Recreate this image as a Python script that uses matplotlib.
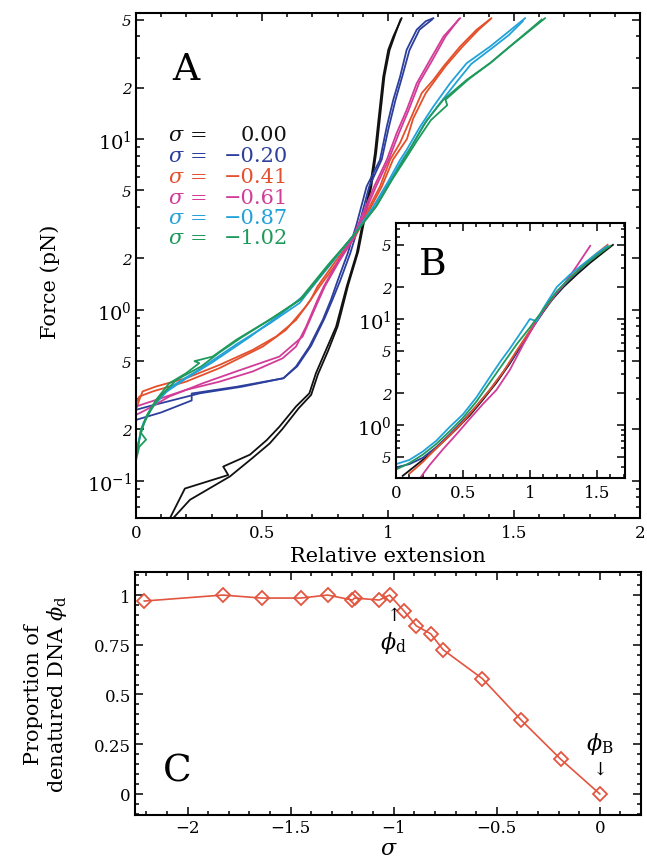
import matplotlib
matplotlib.use("Agg")
import matplotlib.pyplot as plt
from matplotlib.ticker import FixedLocator, NullFormatter, MultipleLocator

plt.rcParams['font.family'] = ['DejaVu Serif']
plt.rcParams['mathtext.fontset'] = 'dejavuserif'

# ---------------- Panel A data: relative extension vs force (pN) ----------------
sigma_labels = ["0.00", "\u22120.20", "\u22120.41", "\u22120.61", "\u22120.87", "\u22121.02"]
colors = ["#111111", "#2d3f9c", "#e4502c", "#d23c98", "#22a2d8", "#1f9a5c"]

black_x1 = [0.135, 0.194, 0.366, 0.346, 0.452, 0.519, 0.569, 0.635, 0.688, 0.714, 0.754, 0.794, 0.836, 0.876, 0.902, 0.929, 0.948, 0.962, 0.981, 1.001, 1.021, 1.054]
black_f1 = [0.0605, 0.090, 0.108, 0.121, 0.142, 0.173, 0.207, 0.272, 0.325, 0.426, 0.583, 0.798, 1.37, 2.15, 3.37, 5.27, 8.26, 12.9, 23.2, 33.3, 39.8, 51.0]
black_x2 = [0.148, 0.214, 0.373, 0.46, 0.53, 0.58, 0.645, 0.695, 0.722, 0.762, 0.80, 0.842, 0.882, 0.907, 0.934, 0.953, 0.967, 0.986, 1.006, 1.030, 1.050]
black_f2 = [0.0605, 0.0773, 0.106, 0.135, 0.165, 0.200, 0.265, 0.318, 0.420, 0.575, 0.80, 1.40, 2.20, 3.40, 5.30, 8.30, 12.9, 23.4, 33.1, 41.7, 50.1]

blue_x1 = [0.0, 0.06, 0.254, 0.42, 0.585, 0.635, 0.688, 0.741, 0.774, 0.80, 0.84, 0.875, 0.915, 0.968, 0.995, 1.021, 1.048, 1.074, 1.114, 1.15, 1.18]
blue_f1 = [0.260, 0.275, 0.325, 0.355, 0.398, 0.466, 0.610, 0.873, 1.15, 1.48, 2.14, 3.16, 5.27, 7.55, 11.8, 17.0, 23.2, 33.3, 43.7, 49.0, 51.0]
blue_x2 = [0.0, 0.10, 0.221, 0.221, 0.40, 0.585, 0.64, 0.695, 0.748, 0.78, 0.81, 0.85, 0.885, 0.925, 0.975, 1.003, 1.03, 1.057, 1.085, 1.125, 1.175]
blue_f2 = [0.227, 0.251, 0.295, 0.324, 0.355, 0.398, 0.468, 0.617, 0.891, 1.15, 1.48, 2.14, 3.16, 5.25, 7.59, 11.7, 17.0, 23.4, 33.1, 43.7, 50.1]

red_x1 = [0.0, 0.013, 0.026, 0.079, 0.198, 0.331, 0.463, 0.556, 0.635, 0.694, 0.72, 0.79, 0.865, 0.968, 1.008, 1.048, 1.087, 1.134, 1.18, 1.22, 1.286, 1.352, 1.41]
red_f1 = [0.260, 0.297, 0.333, 0.356, 0.398, 0.476, 0.583, 0.698, 0.873, 1.15, 1.37, 1.91, 2.69, 5.27, 7.55, 9.51, 12.9, 18.6, 22.2, 26.6, 34.8, 43.7, 51.0]
red_x2 = [0.0, 0.013, 0.066, 0.198, 0.331, 0.503, 0.595, 0.675, 0.73, 0.80, 0.87, 0.975, 1.02, 1.075, 1.10, 1.15, 1.19, 1.23, 1.295, 1.36, 1.405]
red_f2 = [0.284, 0.311, 0.333, 0.380, 0.456, 0.610, 0.764, 1.05, 1.38, 1.91, 2.69, 5.25, 7.59, 10.0, 13.2, 18.6, 22.4, 26.9, 34.7, 43.7, 50.1]

mag_x1 = [0.0, 0.079, 0.198, 0.331, 0.463, 0.582, 0.635, 0.675, 0.721, 0.745, 0.80, 0.862, 0.945, 0.995, 1.034, 1.074, 1.114, 1.167, 1.22, 1.286]
mag_f1 = [0.272, 0.297, 0.340, 0.380, 0.436, 0.521, 0.610, 0.798, 1.15, 1.37, 1.91, 2.69, 5.27, 7.55, 10.8, 14.8, 21.2, 29.1, 39.8, 51.0]
mag_x2 = [0.0, 0.04, 0.132, 0.265, 0.397, 0.569, 0.661, 0.72, 0.75, 0.805, 0.868, 0.952, 1.003, 1.042, 1.082, 1.124, 1.175, 1.228, 1.28]
mag_f2 = [0.243, 0.260, 0.311, 0.372, 0.436, 0.533, 0.698, 1.10, 1.38, 1.91, 2.69, 5.25, 7.59, 10.7, 14.8, 21.4, 28.8, 39.8, 50.1]

cyan_x1 = [0.0, 0.02, 0.05, 0.09, 0.15, 0.25, 0.40, 0.53, 0.65, 0.76, 0.86, 0.94, 1.0, 1.048, 1.074, 1.127, 1.18, 1.246, 1.312, 1.405, 1.471, 1.544]
cyan_f1 = [0.138, 0.200, 0.251, 0.302, 0.363, 0.447, 0.631, 0.832, 1.10, 1.78, 2.69, 3.98, 5.62, 7.55, 8.65, 11.8, 15.5, 21.2, 27.8, 34.8, 41.7, 51.0]
cyan_x2 = [0.005, 0.03, 0.07, 0.12, 0.20, 0.30, 0.45, 0.57, 0.68, 0.78, 0.87, 0.95, 1.01, 1.058, 1.09, 1.14, 1.20, 1.27, 1.33, 1.42, 1.48, 1.535]
cyan_f2 = [0.158, 0.219, 0.275, 0.331, 0.398, 0.490, 0.692, 0.933, 1.26, 1.91, 2.82, 4.17, 5.75, 7.59, 8.91, 12.0, 15.8, 21.4, 27.5, 34.7, 40.7, 49.0]

green_x1 = [0.0, 0.013, 0.04, 0.02, 0.04, 0.079, 0.132, 0.20, 0.251, 0.232, 0.304, 0.397, 0.529, 0.648, 0.76, 0.86, 0.95, 1.01, 1.061, 1.101, 1.154, 1.22, 1.312, 1.405, 1.484, 1.55, 1.623]
green_f1 = [0.132, 0.158, 0.174, 0.190, 0.237, 0.297, 0.372, 0.427, 0.488, 0.501, 0.533, 0.667, 0.874, 1.14, 1.82, 2.69, 3.98, 5.62, 7.55, 9.46, 12.9, 17.0, 22.2, 27.8, 34.8, 41.7, 51.0]
green_x2 = [0.005, 0.02, 0.06, 0.10, 0.16, 0.26, 0.33, 0.42, 0.55, 0.66, 0.77, 0.865, 0.955, 1.015, 1.068, 1.115, 1.17, 1.235, 1.228, 1.32, 1.41, 1.49, 1.555, 1.61]
green_f2 = [0.145, 0.200, 0.263, 0.316, 0.389, 0.468, 0.562, 0.692, 0.912, 1.17, 1.86, 2.75, 4.07, 5.75, 7.59, 9.77, 12.9, 15.8, 17.0, 22.4, 28.2, 35.5, 42.7, 50.1]

main_curves = [
    [(black_x1, black_f1), (black_x2, black_f2)],
    [(blue_x1, blue_f1), (blue_x2, blue_f2)],
    [(red_x1, red_f1), (red_x2, red_f2)],
    [(mag_x1, mag_f1), (mag_x2, mag_f2)],
    [(cyan_x1, cyan_f1), (cyan_x2, cyan_f2)],
    [(green_x1, green_f1), (green_x2, green_f2)],
]

# ---------------- Panel B data (rescaled curves) ----------------
inB_black_x = [0.05, 0.15, 0.25, 0.35, 0.45, 0.55, 0.65, 0.75, 0.85, 0.95, 1.05, 1.15, 1.25, 1.35, 1.45, 1.55, 1.62]
inB_black_f = [0.331, 0.417, 0.525, 0.692, 0.912, 1.23, 1.74, 2.51, 3.80, 6.03, 9.55, 14.5, 20.0, 26.3, 33.9, 42.7, 50.1]
inB_blue_x = [0.0, 0.1, 0.2, 0.3, 0.4, 0.5, 0.6, 0.7, 0.8, 0.9, 1.0, 1.1, 1.2, 1.3, 1.4, 1.5, 1.57]
inB_blue_f = [0.398, 0.427, 0.490, 0.617, 0.813, 1.10, 1.51, 2.14, 3.16, 4.79, 7.59, 11.7, 17.4, 24.0, 31.6, 39.8, 47.9]
inB_red_x = [0.1, 0.2, 0.3, 0.4, 0.5, 0.6, 0.7, 0.8, 0.9, 1.0, 1.1, 1.2, 1.3, 1.4, 1.5, 1.58]
inB_red_f = [0.347, 0.447, 0.603, 0.794, 1.07, 1.51, 2.14, 3.16, 5.01, 7.76, 12.0, 17.8, 24.5, 32.4, 41.7, 50.1]
inB_mag_x = [0.18, 0.25, 0.35, 0.45, 0.55, 0.65, 0.75, 0.85, 0.95, 1.05, 1.15, 1.25, 1.35, 1.45]
inB_mag_f = [0.316, 0.417, 0.589, 0.813, 1.14, 1.58, 2.14, 3.31, 5.75, 9.55, 15.1, 20.9, 31.6, 49.0]
inB_cyan_x = [0.0, 0.1, 0.2, 0.3, 0.4, 0.5, 0.6, 0.7, 0.78, 0.85, 0.92, 1.0, 1.05, 1.1, 1.2, 1.3, 1.4, 1.5, 1.58]
inB_cyan_f = [0.427, 0.468, 0.562, 0.708, 0.955, 1.26, 1.82, 2.82, 3.98, 5.25, 7.08, 10.0, 9.55, 12.6, 20.0, 26.3, 33.1, 41.7, 49.0]
inB_green_x = [0.0, 0.1, 0.2, 0.3, 0.4, 0.5, 0.6, 0.7, 0.8, 0.9, 1.0, 1.1, 1.2, 1.3, 1.4, 1.5, 1.6]
inB_green_f = [0.380, 0.437, 0.525, 0.661, 0.871, 1.17, 1.66, 2.51, 3.80, 5.75, 8.32, 12.3, 18.2, 24.5, 31.6, 39.8, 49.0]

inset_curves = [
    (inB_black_x, inB_black_f), (inB_blue_x, inB_blue_f), (inB_red_x, inB_red_f),
    (inB_mag_x, inB_mag_f), (inB_cyan_x, inB_cyan_f), (inB_green_x, inB_green_f),
]

# ---------------- Panel C data ----------------
sigma_c = [-2.21, -1.83, -1.64, -1.45, -1.32, -1.20, -1.19, -1.07, -1.02, -0.95, -0.89, -0.82, -0.76, -0.57, -0.38, -0.19, 0.0]
phi_c = [0.97, 1.0, 0.985, 0.985, 1.0, 0.975, 0.985, 0.975, 1.0, 0.92, 0.845, 0.805, 0.725, 0.58, 0.37, 0.175, 0.0]

logticks_main = [0.1, 0.2, 0.5, 1, 2, 5, 10, 20, 50]
logticks_main_lbl = [r"$10^{-1}$", "2", "5", r"$10^{0}$", "2", "5", r"$10^{1}$", "2", "5"]
logticks_inset = [0.5, 1, 2, 5, 10, 20, 50]
logticks_inset_lbl = ["5", r"$10^{0}$", "2", "5", r"$10^{1}$", "2", "5"]
minor_logs = [0.06, 0.07, 0.08, 0.09, 0.3, 0.4, 0.6, 0.7, 0.8, 0.9, 3, 4, 6, 7, 8, 9, 30, 40, 60, 70, 80]

W, H = 647, 862
fig = plt.figure(figsize=(W / 100, H / 100), dpi=100)

def style_axes(ax, lw=1.5):
    for s in ax.spines.values():
        s.set_linewidth(lw)
    ax.tick_params(which="both", direction="in", top=True, right=True, width=1.1)
    ax.tick_params(which="major", length=6)
    ax.tick_params(which="minor", length=3)

def style_log_labels(ax, size_pow, size_digit):
    for t in ax.get_yticklabels():
        if "$" in t.get_text():
            t.set_fontsize(size_pow)
        else:
            t.set_fontsize(size_digit)
            t.set_fontstyle("italic")

# ---- Panel A ----
axA = fig.add_axes([136 / W, 1 - 519 / H, (640 - 136) / W, (519 - 14) / H])
for c, traces in zip(colors, main_curves):
    for xs, fs in traces:
        axA.plot(xs, fs, color=c, lw=1.3, solid_joinstyle="round")
axA.set_yscale("log")
axA.set_xlim(0, 2)
axA.set_ylim(0.0605, 54.7)
axA.set_xticks([0, 0.5, 1, 1.5, 2], ["0", "0.5", "1", "1.5", "2"])
axA.xaxis.set_minor_locator(MultipleLocator(0.1))
axA.set_yticks(logticks_main, logticks_main_lbl)
axA.yaxis.set_minor_locator(FixedLocator(minor_logs))
axA.yaxis.set_minor_formatter(NullFormatter())
style_axes(axA)
axA.tick_params(axis="x", labelsize=12, pad=4)
axA.tick_params(axis="y", pad=3)
style_log_labels(axA, 14, 11)
axA.set_xlabel("Relative extension", fontsize=15)
axA.xaxis.set_label_coords(0.5, -0.055)
axA.set_ylabel("Force (pN)", fontsize=15)
axA.yaxis.set_label_coords(-0.15, 0.47)
axA.text((186 - 136) / 504, (519 - 70) / 505, "A", fontsize=27, ha="center", va="center",
         transform=axA.transAxes)

# legend as coloured text
leg_y = [135.5, 156.5, 177.5, 198, 218.5, 239]
for lbl, c, py in zip(sigma_labels, colors, leg_y):
    yf = (519 - py) / 505
    axA.text((168 - 136) / 504, yf, r"$\sigma$", color=c, fontsize=15, ha="left", va="center",
             transform=axA.transAxes)
    axA.text((199 - 136) / 504, yf, "=", color=c, fontsize=15, ha="center", va="center",
             transform=axA.transAxes)
    axA.text((288 - 136) / 504, yf, lbl, color=c, fontsize=15, ha="right", va="center",
             transform=axA.transAxes)

# ---- Panel B (inset) ----
axB = fig.add_axes([396 / W, 1 - 479 / H, (625 - 396) / W, (479 - 224) / H])
axB.set_facecolor("white")
for c, (xs, fs) in zip(colors, inset_curves):
    axB.plot(xs, fs, color=c, lw=1.3)
axB.set_yscale("log")
axB.set_xlim(0, 1.71)
axB.set_ylim(0.316, 80.5)
axB.set_xticks([0, 0.5, 1, 1.5], ["0", "0.5", "1", "1.5"])
axB.xaxis.set_minor_locator(MultipleLocator(0.1))
axB.set_yticks(logticks_inset, logticks_inset_lbl)
axB.yaxis.set_minor_locator(FixedLocator(minor_logs))
axB.yaxis.set_minor_formatter(NullFormatter())
style_axes(axB)
axB.tick_params(axis="x", labelsize=12, pad=4)
axB.tick_params(axis="y", pad=3)
style_log_labels(axB, 14, 11)
axB.text((433 - 396) / 229, (479 - 265) / 255, "B", fontsize=27, ha="center", va="center",
         transform=axB.transAxes)

# ---- Panel C ----
redc = "#e2553f"
axC = fig.add_axes([135 / W, 1 - 816 / H, (641 - 135) / W, (816 - 573) / H])
axC.plot(sigma_c, phi_c, color=redc, lw=1.2, marker="D", ms=7, mfc="none", mec=redc, mew=1.3)
axC.set_xlim(-2.255, 0.2)
axC.set_ylim(-0.106, 1.116)
axC.set_xticks([-2, -1.5, -1, -0.5, 0], ["\u22122", "\u22121.5", "\u22121", "\u22120.5", "0"])
axC.xaxis.set_minor_locator(MultipleLocator(0.1))
axC.set_yticks([0, 0.25, 0.5, 0.75, 1], ["0", "0.25", "0.5", "0.75", "1"])
axC.yaxis.set_minor_locator(MultipleLocator(0.05))
style_axes(axC)
axC.tick_params(axis="both", labelsize=12, pad=3)
fig.text(388 / W, 2 / H, "\u03c3", fontsize=16, fontstyle="italic", ha="center", va="bottom")
axC.set_ylabel("Proportion of\n" + r"denatured DNA $\phi_{\rm d}$", fontsize=15, linespacing=1.1)
axC.yaxis.set_label_coords(-0.13, 0.5)
axC.text(-2.05, 0.12, "C", fontsize=27, ha="center", va="center")
axC.annotate("\u2191", xy=(-1.0, 0.9), ha="center", va="center", fontsize=13)
axC.text(-1.0, 0.765, r"$\phi_{\rm d}$", ha="center", va="center", fontsize=16)
axC.text(0.0, 0.255, r"$\phi_{\rm B}$", ha="center", va="center", fontsize=16)
axC.annotate("\u2193", xy=(0.0, 0.125), ha="center", va="center", fontsize=13)

fig.savefig("out.png", dpi=100)
